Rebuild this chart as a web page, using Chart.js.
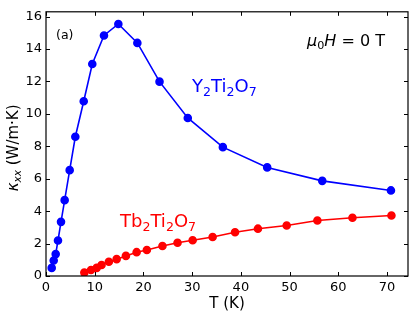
<!DOCTYPE html>
<html>
<head>
<meta charset="utf-8">
<script src="https://cdn.jsdelivr.net/npm/chart.js@4.4.1/dist/chart.umd.min.js"></script>
<style>
  html, body { margin: 0; padding: 0; background: #fff; }
  #wrap { width: 416px; height: 319px; }
</style>
</head>
<body>
<div id="wrap"><canvas id="kappaChart" width="416" height="319"></canvas></div>
<script>
// Y2Ti2O7 data (T in K, kappa in W/m.K)
const tempY = [1.17, 1.58, 1.99, 2.46, 3.08, 3.83, 4.86, 6.02, 7.74, 9.5, 11.9, 14.85, 18.75, 23.3, 29.1, 36.3, 45.4, 56.7, 70.8];
const kappaY = [0.5, 0.96, 1.35, 2.19, 3.34, 4.68, 6.53, 8.59, 10.78, 13.08, 14.84, 15.55, 14.38, 11.99, 9.75, 7.95, 6.7, 5.87, 5.28];

// Tb2Ti2O7 data
const tempTb = [7.87, 9.24, 10.4, 11.4, 12.9, 14.5, 16.4, 18.6, 20.7, 23.9, 27.0, 30.1, 34.2, 38.8, 43.5, 49.4, 55.7, 62.9, 70.9];
const kappaTb = [0.21, 0.37, 0.5, 0.68, 0.88, 1.04, 1.24, 1.47, 1.6, 1.85, 2.05, 2.21, 2.41, 2.7, 2.92, 3.12, 3.42, 3.59, 3.73];

const xTicks = [0, 10, 20, 30, 40, 50, 60, 70];
const yTicks = [0, 2, 4, 6, 8, 10, 12, 14, 16];

const FONT = '"DejaVu Sans", sans-serif';

function toPoints(xs, ys) {
    return xs.map((x, i) => ({ x: x, y: ys[i] }));
}

// draws a run of text pieces; 's' = subscript, 'i' = italic, 'is' = italic subscript
function richWidth(ctx, parts, size) {
    let w = 0;
    parts.forEach(p => {
        const sub = p[1] && p[1].includes('s');
        const ital = p[1] && p[1].includes('i');
        ctx.font = (ital ? 'italic ' : '') + (sub ? size * 0.7 : size) + 'px ' + FONT;
        w += ctx.measureText(p[0]).width;
    });
    return w;
}

function drawRich(ctx, parts, x, y, size, color) {
    ctx.fillStyle = color;
    ctx.textBaseline = 'alphabetic';
    ctx.textAlign = 'left';
    parts.forEach(p => {
        const sub = p[1] && p[1].includes('s');
        const ital = p[1] && p[1].includes('i');
        ctx.font = (ital ? 'italic ' : '') + (sub ? size * 0.7 : size) + 'px ' + FONT;
        ctx.fillText(p[0], x, sub ? y + size * 0.2 : y);
        x += ctx.measureText(p[0]).width;
    });
}

const framePlugin = {
    id: 'frame',
    afterDraw(chart) {
        const ctx = chart.ctx;
        const a = chart.chartArea;
        const xs = chart.scales.x, ys = chart.scales.y;
        ctx.save();
        ctx.strokeStyle = '#000';
        ctx.lineWidth = 1.2;
        ctx.strokeRect(a.left, a.top, a.right - a.left, a.bottom - a.top);

        // inward ticks on all four sides
        ctx.lineWidth = 1;
        ctx.beginPath();
        xTicks.forEach(v => {
            const px = Math.round(xs.getPixelForValue(v)) + 0.5;
            ctx.moveTo(px, a.bottom); ctx.lineTo(px, a.bottom - 4);
            ctx.moveTo(px, a.top); ctx.lineTo(px, a.top + 4);
        });
        yTicks.forEach(v => {
            const py = Math.round(ys.getPixelForValue(v)) + 0.5;
            ctx.moveTo(a.left, py); ctx.lineTo(a.left + 4, py);
            ctx.moveTo(a.right, py); ctx.lineTo(a.right - 4, py);
        });
        ctx.stroke();

        // annotations
        drawRich(ctx, [['(a)']], 56, 39, 12.5, '#000');
        drawRich(ctx, [['μ', 'i'], ['0', 's'], ['H', 'i'], [' = 0 T']], 307, 46, 16, '#000');
        drawRich(ctx, [['Y'], ['2', 's'], ['Ti'], ['2', 's'], ['O'], ['7', 's']], 192, 92, 18, '#0000ff');
        drawRich(ctx, [['Tb'], ['2', 's'], ['Ti'], ['2', 's'], ['O'], ['7', 's']], 120, 227, 18, '#ff0000');

        // axis titles
        ctx.fillStyle = '#000';
        ctx.font = '15px ' + FONT;
        ctx.textAlign = 'center';
        ctx.textBaseline = 'alphabetic';
        ctx.fillText('T (K)', (a.left + a.right) / 2, 308);

        const yParts = [['κ', 'i'], ['xx', 'is'], [' (W/m·K)']];
        const w = richWidth(ctx, yParts, 15);
        ctx.translate(18, (a.top + a.bottom) / 2 + 4);
        ctx.rotate(-Math.PI / 2);
        drawRich(ctx, yParts, -w / 2, 0, 15, '#000');
        ctx.restore();
    }
};

const ctx = document.getElementById('kappaChart').getContext('2d');

new Chart(ctx, {
    type: 'scatter',
    data: {
        datasets: [{
            label: 'Y2Ti2O7',
            data: toPoints(tempY, kappaY),
            showLine: true,
            borderColor: '#0000ff',
            backgroundColor: '#0000ff',
            borderWidth: 1.6,
            pointRadius: 3.5,
            pointHoverRadius: 3.5
        }, {
            label: 'Tb2Ti2O7',
            data: toPoints(tempTb, kappaTb),
            showLine: true,
            borderColor: '#ff0000',
            backgroundColor: '#ff0000',
            borderWidth: 1.6,
            pointRadius: 3.5,
            pointHoverRadius: 3.5
        }]
    },
    options: {
        responsive: false,
        animation: false,
        events: [],
        layout: { padding: { top: 7, right: 8, left: 0, bottom: 0 } },
        plugins: {
            legend: { display: false },
            tooltip: { enabled: false }
        },
        scales: {
            x: {
                type: 'linear',
                min: 0,
                max: 74.3,
                afterBuildTicks: s => { s.ticks = xTicks.map(v => ({ value: v })); },
                afterFit: s => { s.height = 43; },
                grid: { display: false, drawTicks: false },
                border: { display: false },
                ticks: {
                    padding: 4,
                    color: '#000',
                    font: { family: 'DejaVu Sans', size: 13 },
                    maxRotation: 0
                }
            },
            y: {
                type: 'linear',
                min: 0,
                max: 16.3,
                afterBuildTicks: s => { s.ticks = yTicks.map(v => ({ value: v })); },
                afterFit: s => { s.width = 46; },
                grid: { display: false, drawTicks: false },
                border: { display: false },
                ticks: {
                    padding: 4,
                    color: '#000',
                    font: { family: 'DejaVu Sans', size: 13 }
                }
            }
        }
    },
    plugins: [framePlugin]
});
</script>
</body>
</html>
